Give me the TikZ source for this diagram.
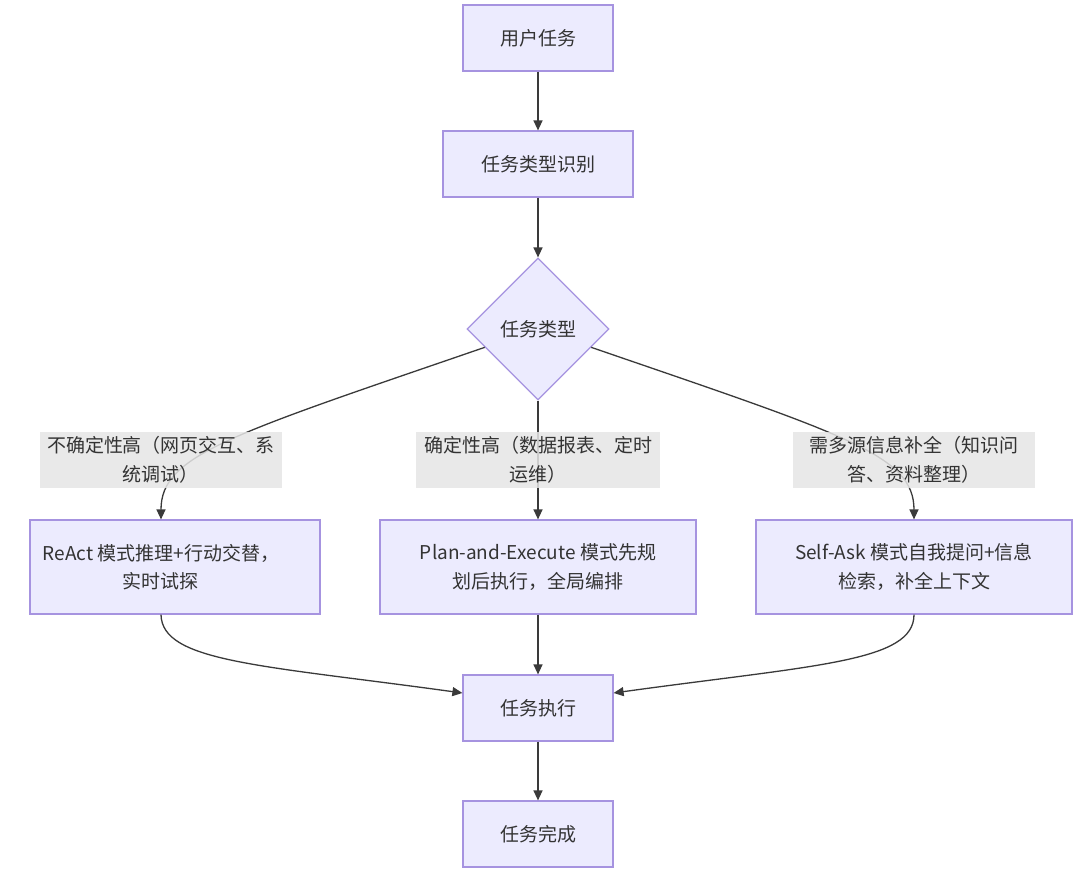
\documentclass[tikz,border=0pt]{standalone}
\usepackage{fontspec}
\setmainfont{Noto Sans CJK SC}
\usetikzlibrary{shapes.geometric,arrows.meta}
\definecolor{nodefill}{HTML}{ECEBFE}
\definecolor{nodeline}{HTML}{A693E0}
\definecolor{edgecol}{HTML}{3A3A3A}
\definecolor{txt}{HTML}{333333}
\definecolor{lblfill}{HTML}{E6E6E6}
\begin{document}
\begin{tikzpicture}[x=1pt,y=-1pt,
  every node/.style={font=\fontsize{19}{28.5}\selectfont, text=txt},
  box/.style={draw=nodeline, fill=nodefill, line width=1.2pt, inner sep=0pt, align=center},
  dia/.style={diamond, draw=nodeline, fill=nodefill, line width=1.2pt, inner sep=0pt, minimum width=142pt, minimum height=142pt, aspect=1},
  lbl/.style={fill=lblfill, fill opacity=0.85, text opacity=1, inner sep=0pt, align=center, minimum height=56pt},
  arr/.style={draw=edgecol, line width=1.3pt, -{Triangle[length=10pt,width=9pt]}}]
\useasboundingbox (0,0) rectangle (1080,873);
\fill[white] (0,0) rectangle (1080,873);
% main nodes
\node[box, minimum width=150pt, minimum height=66pt] (a) at (538,38) {用户任务};
\node[box, minimum width=190pt, minimum height=66pt] (b) at (538,164) {任务类型识别};
\node[dia] (d) at (538,329) {任务类型};
\node[box, minimum width=290pt, minimum height=94pt] (r1) at (175,567) {};
\node[align=center, inner sep=0pt] (r1t) at (161,567) {ReAct 模式推理+行动交替，\\实时试探};
\node[box, minimum width=316pt, minimum height=94pt] (r2) at (538,567) {Plan-and-Execute 模式先规\\划后执行，全局编排};
\node[box, minimum width=316pt, minimum height=94pt] (r3) at (914,567) {Self-Ask 模式自我提问+信息\\检索，补全上下文};
\node[box, minimum width=150pt, minimum height=66pt] (e) at (538,708) {任务执行};
\node[box, minimum width=150pt, minimum height=66pt] (f) at (538,834) {任务完成};
\coordinate (l1c) at (161,460);
\coordinate (l3c) at (914,460);
% edges
\draw[arr] (a) -- (b);
\draw[arr] (b) -- (d);
\draw[arr] (d.199) .. controls (230,435) and (161,455) .. (l1c |- r1.north);
\draw[arr] (d.south) -- (r2.north);
\draw[arr] (d.-19) .. controls (846,435) and (914,455) .. (l3c |- r3.north);
\draw[arr] (r1.south -| l1c) .. controls (162,662) and (260,665) .. ([yshift=15pt]e.west);
\draw[arr] (r2.south) -- (e.north);
\draw[arr] (r3.south) .. controls (914,662) and (816,665) .. ([yshift=15pt]e.east);
\draw[arr] (e) -- (f);
% edge labels
\node[lbl, minimum width=242pt] (l1) at (l1c) {不确定性高（网页交互、系\\统调试）};
\node[lbl, minimum width=244pt] (l2) at (538,460) {确定性高（数据报表、定时\\运维）};
\node[lbl, minimum width=242pt] (l3) at (l3c) {需多源信息补全（知识问\\答、资料整理）};
\end{tikzpicture}
\end{document}
